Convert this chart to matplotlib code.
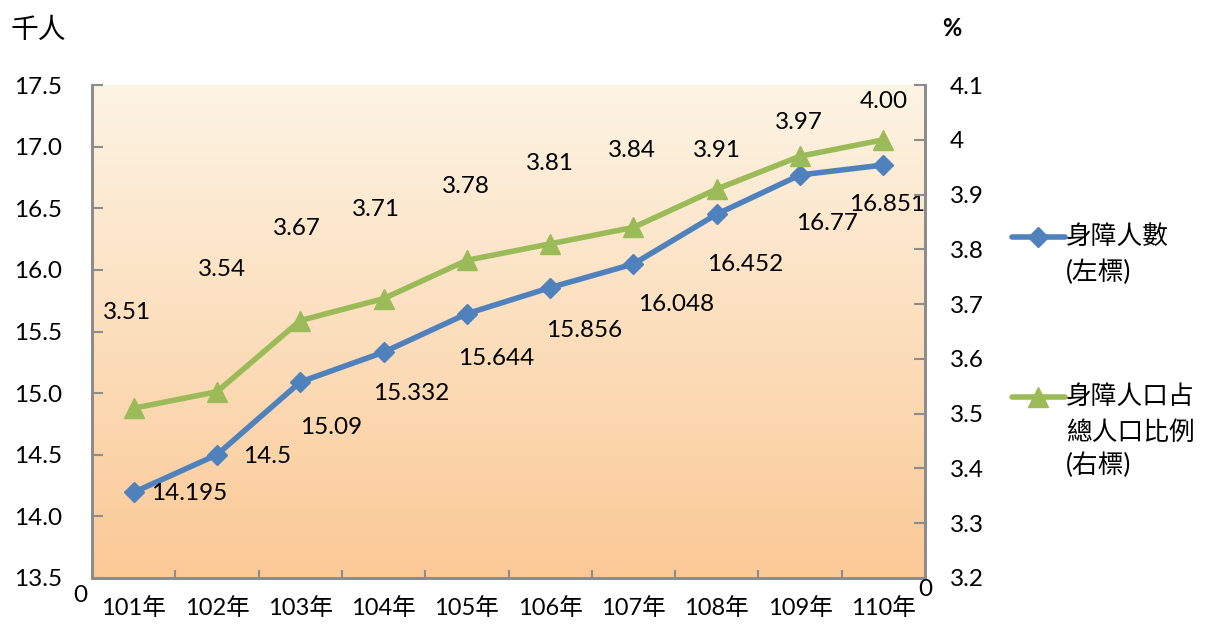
import numpy as np
import matplotlib.pyplot as plt
from matplotlib.lines import Line2D
from matplotlib.colors import LinearSegmentedColormap

plt.rcParams['font.family'] = ['Lato', 'Noto Sans CJK TC', 'DejaVu Sans']

anos = ['101年', '102年', '103年', '104年', '105年', '106年', '107年', '108年', '109年', '110年']
pessoas = [14.195, 14.5, 15.09, 15.332, 15.644, 15.856, 16.048, 16.452, 16.77, 16.851]
proporcao = [3.51, 3.54, 3.67, 3.71, 3.78, 3.81, 3.84, 3.91, 3.97, 4.00]
rot_pessoas = ['14.195', '14.5', '15.09', '15.332', '15.644', '15.856', '16.048', '16.452', '16.77', '16.851']
rot_proporcao = ['3.51', '3.54', '3.67', '3.71', '3.78', '3.81', '3.84', '3.91', '3.97', '4.00']

# deslocamento dos rotulos (pixels)
desl_azul = [(56, -1), (50, -2), (31, -45), (28, -41), (29, -45), (34, -43), (43, -41), (28, -50), (27, -49), (4, -40)]
desl_verde = [(-7, 96), (5, 122), (-3, 92), (-8, 89), (-1, 74), (0, 80), (-2, 77), (0, 39), (-1, 34), (0, 38)]

azul = '#4F81BD'
verde = '#9BBB59'
cinza = '#8C8C8C'
fs = 17.5
lw = 4
ms_d = 10
ms_t = 14

fig = plt.figure(figsize=(12.06, 6.28), dpi=100)
ax = fig.add_axes([92/1206, 1-578/628, 833/1206, 493/628])
ax2 = ax.twinx()

# fundo em degrade
cmap = LinearSegmentedColormap.from_list('fundo', ['#FBC996', '#FDF4E4'])
grad = np.linspace(0, 1, 256).reshape(-1, 1)
ax.imshow(grad, aspect='auto', cmap=cmap, origin='lower', extent=[0, 1, 0, 1],
          transform=ax.transAxes, zorder=0)

x = np.arange(len(anos))
ax.plot(x, pessoas, color=azul, lw=lw, marker='D', ms=ms_d, zorder=3)
ax2.plot(x, proporcao, color=verde, lw=lw, marker='^', ms=ms_t, zorder=3)

for i in range(len(x)):
    ax.annotate(rot_pessoas[i], (x[i], pessoas[i]), xytext=desl_azul[i], textcoords='offset pixels',
                ha='center', va='center', fontsize=fs, zorder=5)
    ax2.annotate(rot_proporcao[i], (x[i], proporcao[i]), xytext=desl_verde[i], textcoords='offset pixels',
                 ha='center', va='center', fontsize=fs, zorder=5)

ax.set_xlim(-0.5, len(anos) - 0.5)
ax.set_ylim(13.5, 17.5)
ax2.set_ylim(3.2, 4.1)
ax.set_yticks(np.arange(13.5, 17.51, 0.5))
ax.set_yticklabels([f'{v:.1f}' for v in np.arange(13.5, 17.51, 0.5)])
ax2.set_yticks(np.arange(3.2, 4.11, 0.1))
ax2.set_yticklabels(['3.2', '3.3', '3.4', '3.5', '3.6', '3.7', '3.8', '3.9', '4', '4.1'])

ax.set_xticks(x)
ax.set_xticklabels(anos)
ax.set_xticks(np.arange(-0.5, len(anos) - 0.4, 1), minor=True)
ax.tick_params(axis='x', which='major', length=0, labelsize=17, pad=14)
ax.tick_params(axis='x', which='minor', direction='in', length=6, width=1.5, color=cinza)
ax.tick_params(axis='y', direction='in', length=8, width=1.5, color=cinza, labelsize=fs, pad=56)
ax2.tick_params(axis='y', direction='in', length=8, width=1.5, color=cinza, labelsize=fs, pad=18)
for a in (ax, ax2):
    for s in a.spines.values():
        s.set_color(cinza)
        s.set_linewidth(2)
ax.spines['top'].set_visible(False)
ax2.spines['top'].set_visible(False)
for t in ax.get_yticklabels():
    t.set_ha('left')

fig.text(38/1206, 1-30/628, '千人', fontsize=20, ha='center', va='center')
fig.text(952/1206, 1-28/628, '%', fontsize=17, ha='center', va='center', fontweight='bold')
fig.text(80/1206, 1-595/628, '0', fontsize=fs, ha='center', va='center')
fig.text(925/1206, 1-590/628, '0', fontsize=fs, ha='center', va='center')

# legenda
leg_fs = 18.5
fig.add_artist(Line2D([1012/1206, 1065/1206], [1-237/628, 1-237/628], color=azul, lw=lw,
                      solid_capstyle='round', transform=fig.transFigure))
fig.add_artist(Line2D([1038/1206], [1-237/628], color=azul, marker='D', ms=ms_d, transform=fig.transFigure))
fig.text(1066/1206, 1-237/628, '身障人數', fontsize=leg_fs, va='center')
fig.text(1066/1206, 1-272/628, '(左標)', fontsize=leg_fs, va='center')
fig.add_artist(Line2D([1012/1206, 1065/1206], [1-397/628, 1-397/628], color=verde, lw=lw,
                      solid_capstyle='round', transform=fig.transFigure))
fig.add_artist(Line2D([1038/1206], [1-397/628], color=verde, marker='^', ms=ms_t, transform=fig.transFigure))
fig.text(1066/1206, 1-397/628, '身障人口占', fontsize=leg_fs, va='center')
fig.text(1066/1206, 1-432/628, '總人口比例', fontsize=leg_fs, va='center')
fig.text(1066/1206, 1-465/628, '(右標)', fontsize=leg_fs, va='center')

fig.savefig('out.png', dpi=100)
